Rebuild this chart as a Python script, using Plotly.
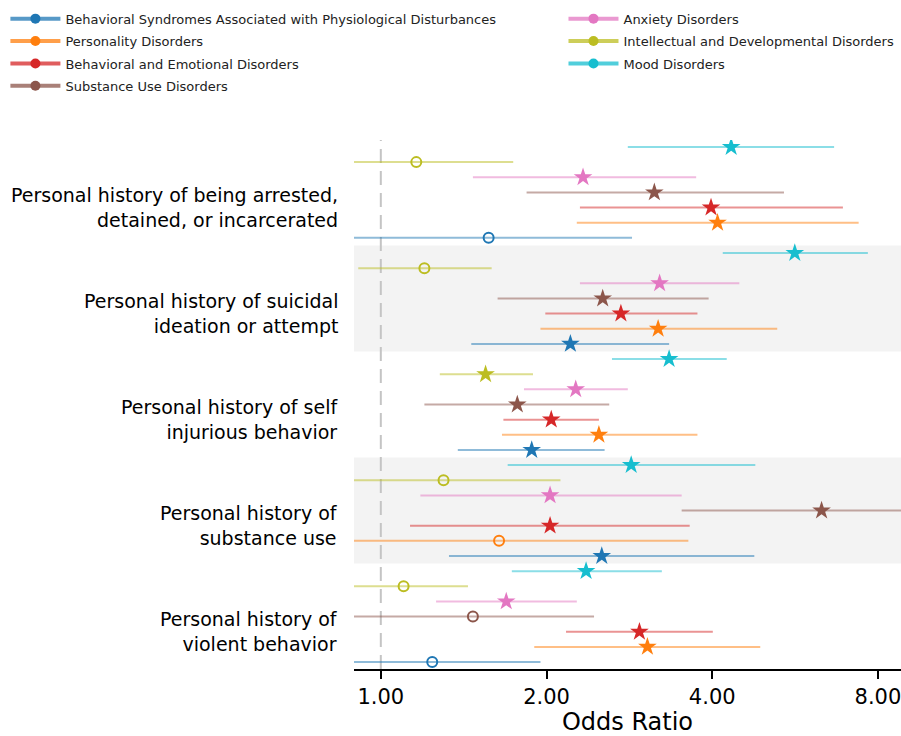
import plotly.graph_objects as go

# ---- data (top-to-bottom groups) ----
groups = [
    "Personal history of being arrested,<br>detained, or incarcerated",
    "Personal history of suicidal<br>ideation or attempt",
    "Personal history of self<br>injurious behavior",
    "Personal history of<br>substance use",
    "Personal history of<br>violent behavior",
]
series = [
    "Behavioral Syndromes Associated with Physiological Disturbances",
    "Personality Disorders",
    "Behavioral and Emotional Disorders",
    "Substance Use Disorders",
    "Anxiety Disorders",
    "Intellectual and Developmental Disorders",
    "Mood Disorders",
]
colors = ["#1f77b4", "#ff7f0e", "#d62728", "#8c564b", "#e377c2", "#bcbd22", "#17becf"]

or_blue = [1.57, 2.21, 1.88, 2.52, 1.24]
lo_blue = [0.80, 1.46, 1.38, 1.33, 0.80]
hi_blue = [2.86, 3.34, 2.55, 4.77, 1.95]

or_orange = [4.09, 3.19, 2.49, 1.64, 3.05]
lo_orange = [2.27, 1.95, 1.66, 0.75, 1.90]
hi_orange = [7.38, 5.25, 3.76, 3.62, 4.89]

or_red = [3.98, 2.73, 2.04, 2.03, 2.95]
lo_red = [2.30, 1.99, 1.67, 1.13, 2.17]
hi_red = [6.91, 3.76, 2.49, 3.64, 4.01]

or_brown = [3.14, 2.53, 1.77, 6.32, 1.47]
lo_brown = [1.84, 1.63, 1.20, 3.52, 0.72]
hi_brown = [5.40, 3.94, 2.60, 11.5, 2.44]

or_pink = [2.33, 3.21, 2.26, 2.03, 1.69]
lo_pink = [1.47, 2.30, 1.82, 1.18, 1.26]
hi_pink = [3.74, 4.48, 2.81, 3.52, 2.27]

or_olive = [1.16, 1.20, 1.55, 1.30, 1.10]
lo_olive = [0.82, 0.91, 1.28, 0.78, 0.85]
hi_olive = [1.74, 1.59, 1.89, 2.12, 1.44]

or_cyan = [4.33, 5.65, 3.34, 2.85, 2.36]
lo_cyan = [2.81, 4.18, 2.63, 1.70, 1.73]
hi_cyan = [6.66, 7.67, 4.25, 4.79, 3.24]

ors = [or_blue, or_orange, or_red, or_brown, or_pink, or_olive, or_cyan]
los = [lo_blue, lo_orange, lo_red, lo_brown, lo_pink, lo_olive, lo_cyan]
his = [hi_blue, hi_orange, hi_red, hi_brown, hi_pink, hi_olive, hi_cyan]

x_ticks = [1, 2, 4, 8]
x_ticktext = ["1.00", "2.00", "4.00", "8.00"]

FONT = "DejaVu Sans, Verdana, sans-serif"


def rgba(h, a):
    h = h.lstrip("#")
    r, g, b = int(h[0:2], 16), int(h[2:4], 16), int(h[4:6], 16)
    return f"rgba({r},{g},{b},{a})"


ng = len(groups)
ns = len(series)

fig = go.Figure()

# shaded bands for alternate groups
for gi in range(ng):
    if gi % 2 == 1:
        base = (ng - 1 - gi) * ns
        fig.add_shape(type="rect", xref="paper", yref="y", x0=0, x1=1,
                      y0=base - 0.5, y1=base + ns - 0.5,
                      fillcolor="#f3f3f3", line_width=0, layer="below")

# reference line at OR = 1
fig.add_shape(type="line", xref="x", yref="paper", x0=1, x1=1, y0=0, y1=1,
              line=dict(color="#c4c4c4", width=2, dash="14px,8px"), layer="below")

for si in range(ns):
    ys, xs, em, ep, syms = [], [], [], [], []
    for gi in range(ng):
        y = (ng - 1 - gi) * ns + si
        o, l, h = ors[si][gi], los[si][gi], his[si][gi]
        ys.append(y)
        xs.append(o)
        em.append(o - l)
        ep.append(h - o)
        syms.append("star" if l > 1 else "circle-open")
    fig.add_trace(go.Scatter(
        x=xs, y=ys, mode="markers", showlegend=False, hoverinfo="skip",
        marker=dict(symbol=syms, size=[14 if s == "star" else 10 for s in syms], opacity=1,
                    color=colors[si],
                    line=dict(color=colors[si], width=[0 if s == "star" else 2 for s in syms])),
        error_x=dict(type="data", symmetric=False, array=ep, arrayminus=em,
                     color=rgba(colors[si], 0.5), thickness=2, width=0),
        cliponaxis=True,
    ))

# legend entries (two columns)
col1 = [0, 1, 2, 3]
for si in range(ns):
    fig.add_trace(go.Scatter(
        x=[None], y=[None], mode="lines+markers", name=series[si],
        line=dict(color=rgba(colors[si], 0.75), width=4),
        marker=dict(symbol="circle", size=10, color=colors[si]),
        legend="legend" if si in col1 else "legend2",
        legendgroup=f"g{si}",
    ))

annotations = []
for gi in range(ng):
    y = (ng - 1 - gi) * ns + 2
    annotations.append(dict(
        text=groups[gi], xref="paper", yref="y", x=0, y=y,
        xanchor="right", yanchor="middle", xshift=-14, align="right",
        showarrow=False, font=dict(family=FONT, size=19, color="black"),
    ))

legend_common = dict(xref="container", yref="container", xanchor="left", yanchor="top",
                     font=dict(family=FONT, size=13, color="#222"),
                     bgcolor="rgba(0,0,0,0)", tracegroupgap=2.5, itemwidth=50)

fig.update_layout(
    width=901, height=736,
    margin=dict(l=354, r=0, t=140, b=67, autoexpand=False),
    paper_bgcolor="white", plot_bgcolor="white",
    xaxis=dict(type="log", range=[-0.0487, 0.945], tickvals=x_ticks, ticktext=x_ticktext,
               ticks="outside", ticklen=8, tickwidth=2, tickcolor="black", tickangle=0,
               ticklabeloverflow="allow",
               showline=True, linecolor="black", linewidth=2, showgrid=False, zeroline=False,
               tickfont=dict(family=FONT, size=21, color="black"),
               title=dict(text="Odds Ratio", font=dict(family=FONT, size=24, color="black"),
                          standoff=4)),
    yaxis=dict(range=[-0.46, 34.46], visible=False, showgrid=False, zeroline=False),
    legend=dict(x=0.006, y=0.995, **legend_common),
    legend2=dict(x=0.6254, y=0.995, **legend_common),
    annotations=annotations,
)

fig.write_html("out.html", config={"displayModeBar": False},
               post_script="document.body.style.margin='0px';")
